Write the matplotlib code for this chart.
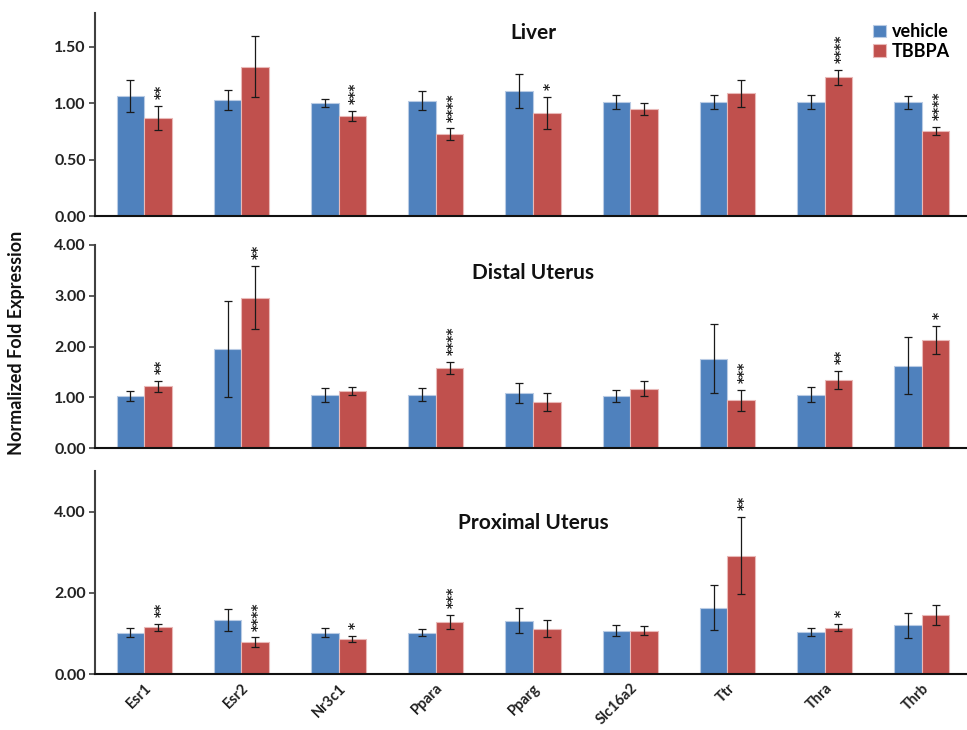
import numpy as np
import matplotlib.pyplot as plt

plt.rcParams['font.family'] = ['Lato', 'DejaVu Sans']

#### data ######################################################################

genes = ['Esr1', 'Esr2', 'Nr3c1', 'Ppara', 'Pparg', 'Slc16a2', 'Ttr', 'Thra', 'Thrb']

liver_veh = [1.065, 1.03, 1.003, 1.024, 1.112, 1.009, 1.009, 1.009, 1.009]
liver_veh_err = [0.145, 0.09, 0.035, 0.08, 0.15, 0.06, 0.06, 0.06, 0.056]
liver_tb = [0.870, 1.325, 0.888, 0.723, 0.912, 0.950, 1.088, 1.230, 0.752]
liver_tb_err = [0.108, 0.27, 0.047, 0.053, 0.14, 0.056, 0.118, 0.068, 0.036]
liver_sig = ['**', '', '***', '****', '*', '', '', '****', '****']

distal_veh = [1.018, 1.95, 1.038, 1.05, 1.077, 1.018, 1.76, 1.05, 1.62]
distal_veh_err = [0.10, 0.95, 0.14, 0.13, 0.20, 0.12, 0.68, 0.145, 0.56]
distal_tb = [1.215, 2.96, 1.117, 1.57, 0.906, 1.169, 0.94, 1.334, 2.128]
distal_tb_err = [0.105, 0.62, 0.08, 0.12, 0.17, 0.15, 0.21, 0.18, 0.27]
distal_sig = ['**', '**', '', '****', '', '', '***', '**', '*']

prox_veh = [1.022, 1.325, 1.022, 1.022, 1.31, 1.071, 1.635, 1.04, 1.195]
prox_veh_err = [0.10, 0.27, 0.11, 0.075, 0.31, 0.13, 0.56, 0.10, 0.30]
prox_tb = [1.153, 0.785, 0.867, 1.29, 1.12, 1.071, 2.91, 1.137, 1.448]
prox_tb_err = [0.09, 0.115, 0.07, 0.17, 0.22, 0.11, 0.95, 0.09, 0.24]
prox_sig = ['**', '****', '*', '***', '', '', '**', '*', '']

blue = '#4F81BD'
red = '#C0504D'

#### plot ######################################################################

fig = plt.figure(figsize=(9.67, 7.3), dpi=100)
W, H = 967.0, 730.0
x0, x1 = 95.4, 970.6
panels = [
    # title, veh, veh_err, tb, tb_err, sig, ylim, yticks, top px, title y
    ('Liver', liver_veh, liver_veh_err, liver_tb, liver_tb_err, liver_sig,
     1.8, [0, 0.5, 1.0, 1.5], 13, 0.90),
    ('Distal Uterus', distal_veh, distal_veh_err, distal_tb, distal_tb_err, distal_sig,
     4.0, [0, 1, 2, 3, 4], 245, 0.86),
    ('Proximal Uterus', prox_veh, prox_veh_err, prox_tb, prox_tb_err, prox_sig,
     5.0, [0, 2, 4], 471, 0.745),
]

x = np.arange(len(genes))
bw = 0.283
axes = []
for title, veh, veh_e, tb, tb_e, sig, ymax, yt, top, ty in panels:
    ax = fig.add_axes([x0 / W, 1 - (top + 203) / H, (x1 - x0) / W, 203 / H])
    axes.append(ax)
    ax.bar(x - bw / 2, veh, bw, color=blue, edgecolor='#b9cbe4', lw=0.8,
           label='vehicle', zorder=2)
    ax.bar(x + bw / 2, tb, bw, color=red, edgecolor='#e9b9b8', lw=0.8,
           label='TBBPA', zorder=2)
    ax.errorbar(x - bw / 2, veh, yerr=veh_e, fmt='none', ecolor='#1a1a1a',
                elinewidth=0.9, capsize=3, capthick=0.9, zorder=3)
    ax.errorbar(x + bw / 2, tb, yerr=tb_e, fmt='none', ecolor='#1a1a1a',
                elinewidth=0.9, capsize=3, capthick=0.9, zorder=3)
    for i, s in enumerate(sig):
        if s:
            ax.annotate(s, (x[i] + bw / 2, tb[i] + tb_e[i]), xytext=(2, 5),
                        textcoords='offset points', rotation=90,
                        ha='center', va='bottom', fontsize=10, fontweight='bold',
                        family='DejaVu Sans', color='#222222')
    ax.set_xlim(-0.5, 8.5)
    ax.set_ylim(0, ymax)
    ax.set_yticks(yt)
    ax.set_yticklabels(['%.2f' % v for v in yt], fontsize=11.5, fontweight='bold',
                       color='#222222')
    ax.tick_params(axis='y', length=4, width=1.2, color='#404040', pad=3)
    ax.tick_params(axis='x', length=0)
    for s in ['top', 'right']:
        ax.spines[s].set_visible(False)
    ax.spines['left'].set_color('#404040')
    ax.spines['left'].set_linewidth(1.5)
    ax.spines['bottom'].set_color('#111111')
    ax.spines['bottom'].set_linewidth(1.5)
    ax.text(0.5, ty, title, transform=ax.transAxes, ha='center', va='center',
            fontsize=15, fontweight='bold', color='#111111')

for ax in axes[:2]:
    ax.set_xticks(x)
    ax.set_xticklabels([])

axes[2].set_xticks(x)
axes[2].set_xticklabels(genes, rotation=45, ha='right', va='top',
                        rotation_mode='anchor', fontsize=10.5, fontweight='bold',
                        color='#222222')
axes[2].tick_params(axis='x', pad=5)

leg = axes[0].legend(loc='upper right', bbox_to_anchor=(0.995, 1.03), frameon=False,
                     prop={'weight': 'bold', 'size': 13}, handlelength=0.7,
                     handleheight=0.7, handletextpad=0.35, labelspacing=0.15)

fig.text(17 / W, 1 - 343 / H, 'Normalized Fold Expression', rotation=90,
         ha='center', va='center', fontsize=13, fontweight='bold', color='#111111')

fig.savefig('out.png', dpi=100)
plt.close()
